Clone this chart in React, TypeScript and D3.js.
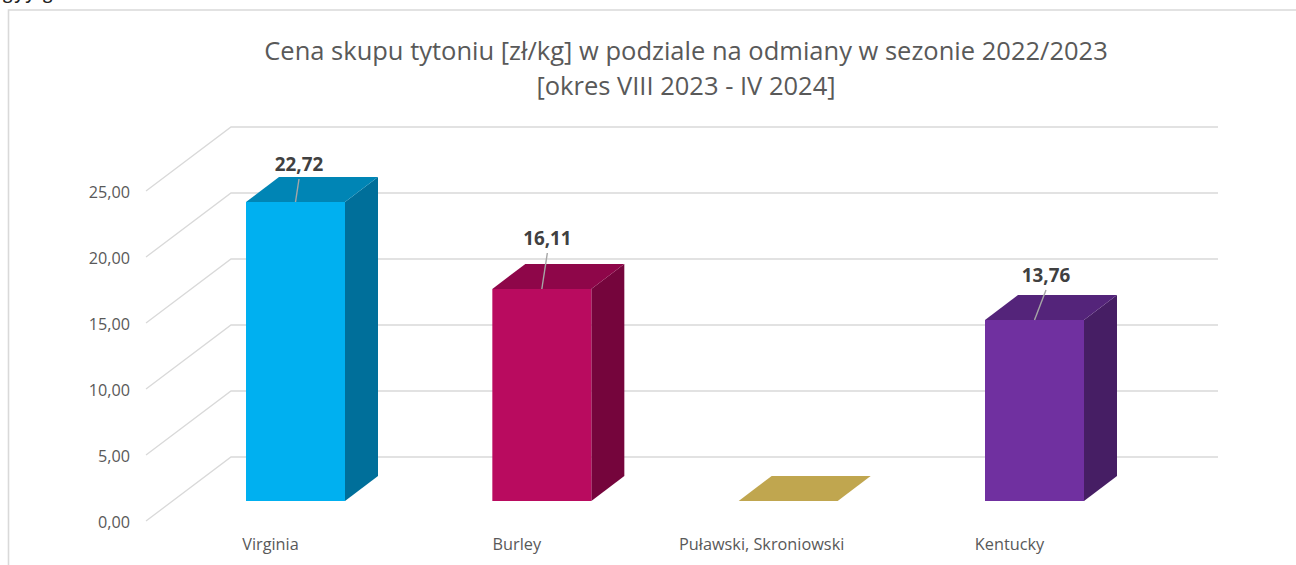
import React from "react";
import * as d3 from "d3";

const categories = ["Virginia", "Burley", "Puławski, Skroniowski", "Kentucky"];
const prices = [22.72, 16.11, 0, 13.76];
const valueLabels = ["22,72", "16,11", "", "13,76"];
const tickValues = [0, 5, 10, 15, 20, 25];
const frontColors = ["#00B0F0", "#B90B5F", "#C0A64F", "#7030A0"];
const topColors = ["#0085B5", "#8E0649", "#C0A64F", "#54247A"];
const sideColors = ["#006F9A", "#75053C", "#C0A64F", "#461E64"];
const titleLines = [
  "Cena skupu tytoniu [zł/kg] w podziale na odmiany w sezonie 2022/2023",
  "[okres VIII 2023 - IV 2024]",
];

const W = 1296;
const H = 565;
const FONT = "'Open Sans', 'Noto Sans', sans-serif";
const barWidth = 99;
const depth = { dx: 33, dy: -25 };
const wall = { dx: 85, dy: -64 };
const labelShift = [
  { dx: 3.5, dy: -38 },
  { dx: 5.5, dy: -51 },
  { dx: 0, dy: 0 },
  { dx: 11.5, dy: -45 },
];

const yBack = d3.scaleLinear().domain([0, 25]).range([457, 127]);
const yBar = d3.scaleLinear().domain([0, 25]).range([501, 172]);
const xCenter = d3.scalePoint<string>().domain(categories).range([295.5, 1034.5]);

const poly = (pts: [number, number][]) => (d3.line()(pts) ?? "") + "Z";

export default function App() {
  return (
    <svg
      width={W}
      height={H}
      viewBox={`0 0 ${W} ${H}`}
      style={{ position: "absolute", left: 0, top: 0, background: "#fff", display: "block" }}
      fontFamily={FONT}
    >
      <text x={3} y={-1} fontSize={17} fontWeight={600} fill="#222" letterSpacing={2}>gyy g</text>
      <path d={`M${W} 10H8.5V${H}`} fill="none" stroke="#D9D9D9" strokeWidth={1.6} />

      {titleLines.map((t, i) => (
        <text
          key={t}
          x={686}
          y={60 + i * 35}
          textAnchor="middle"
          fontSize={25.5}
          fill="#595959"
        >
          {t}
        </text>
      ))}

      {tickValues.map((v) => {
        const y = yBack(v);
        return (
          <g key={v}>
            <path
              d={`M${231 - wall.dx} ${y - wall.dy}L231 ${y}H1218`}
              fill="none"
              stroke="#D9D9D9"
              strokeWidth={1.3}
            />
            <text
              x={130}
              y={y - wall.dy + 1}
              dy="0.36em"
              textAnchor="end"
              fontSize={16.2}
              fill="#595959"
            >
              {d3.format(".2f")(v).replace(".", ",")}
            </text>
          </g>
        );
      })}

      {categories.map((c, i) => {
        const cx = xCenter(c)!;
        const x0 = cx - barWidth / 2;
        const x1 = cx + barWidth / 2;
        const yT = yBar(prices[i]);
        const yB = yBar(0);
        const { dx, dy } = depth;
        const hasBody = prices[i] > 0;
        return (
          <g key={c}>
            {hasBody && (
              <path
                d={poly([[x1, yT], [x1 + dx, yT + dy], [x1 + dx, yB + dy], [x1, yB]])}
                fill={sideColors[i]}
              />
            )}
            <path
              d={poly([[x0, yT], [x0 + dx, yT + dy], [x1 + dx, yT + dy], [x1, yT]])}
              fill={topColors[i]}
            />
            {hasBody && (
              <path
                d={poly([[x0, yT], [x1, yT], [x1, yB], [x0, yB]])}
                fill={frontColors[i]}
              />
            )}
            {valueLabels[i] && (
              <g>
                <line
                  x1={cx}
                  y1={yT}
                  x2={cx + labelShift[i].dx}
                  y2={yT + labelShift[i].dy + 15}
                  stroke="#A6A6A6"
                  strokeWidth={1.4}
                />
                <text
                  x={cx + labelShift[i].dx}
                  y={yT + labelShift[i].dy}
                  dy="0.36em"
                  textAnchor="middle"
                  fontSize={18.8}
                  fontWeight={700}
                  fill="#404040"
                >
                  {valueLabels[i]}
                </text>
              </g>
            )}
            <text
              x={i === 2 ? cx - 26.5 : cx - 25}
              y={544}
              dy="0.36em"
              textAnchor="middle"
              fontSize={16.3}
              fill="#595959"
            >
              {c}
            </text>
          </g>
        );
      })}
    </svg>
  );
}
